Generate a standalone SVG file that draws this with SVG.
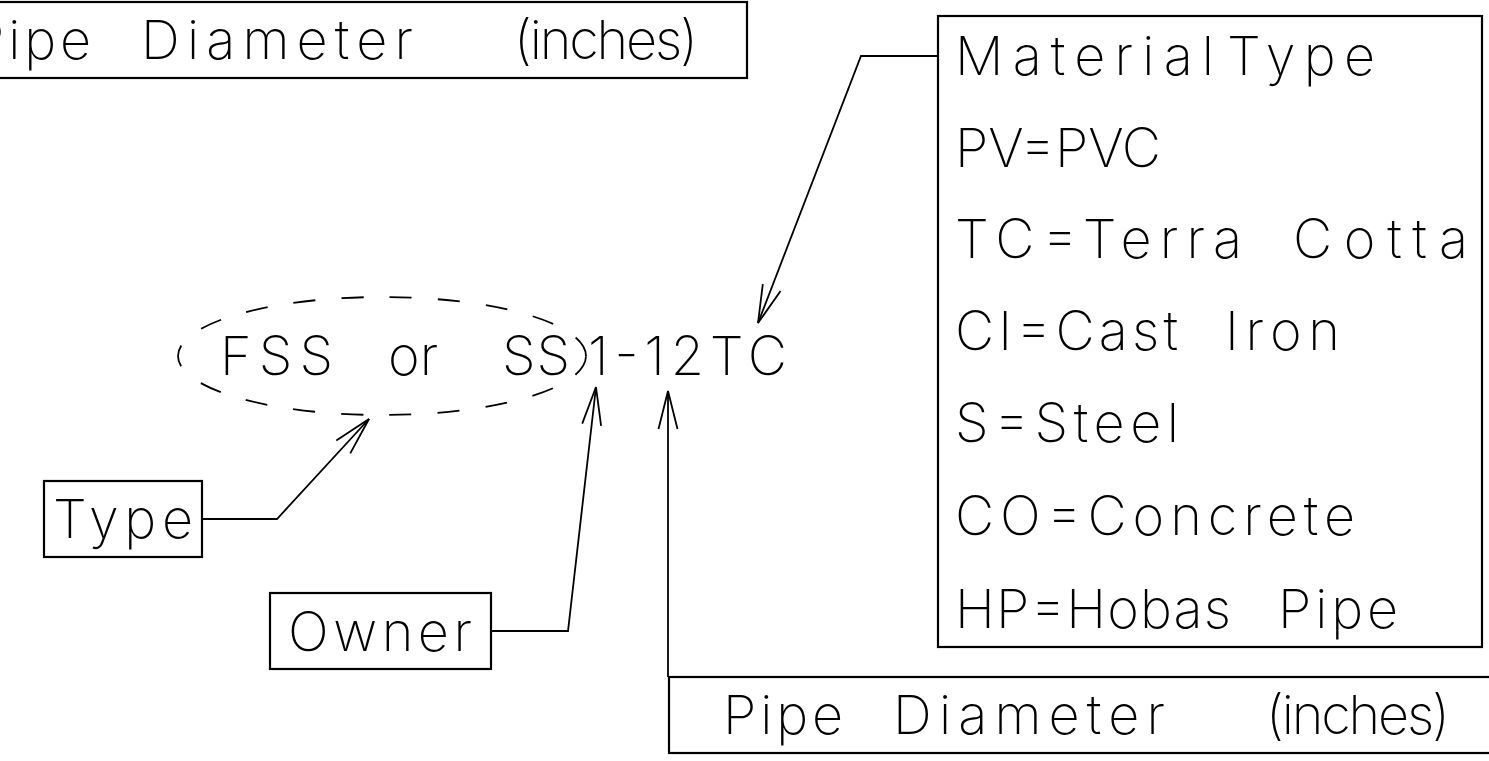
<svg xmlns="http://www.w3.org/2000/svg" width="1489" height="761" viewBox="0 0 1489 761">
<style>
text{font-family:Inter,"Open Sans","DejaVu Sans",sans-serif;font-weight:200;font-size:54px;fill:#000}
.box{fill:none;stroke:#000;stroke-width:2.2}
.ld{fill:none;stroke:#000;stroke-width:1.8;marker-end:url(#arr)}
.dash{fill:none;stroke:#000;stroke-width:1.8;stroke-dasharray:22 26.2}
</style>
<defs>
<marker id="arr" viewBox="-42 -12 46 24" markerWidth="46" markerHeight="24" refX="0" refY="0" markerUnits="userSpaceOnUse" orient="auto">
<path d="M-38,-9.5 L0,0 L-38,9.5" fill="none" stroke="#000" stroke-width="1.8"/>
</marker>
</defs>
<rect width="1489" height="761" fill="#fff"/>
<g id="top-diameter">
<rect class="box" x="-84" y="2" width="831" height="76"/>
<text y="59"><tspan x="-29" textLength="120" lengthAdjust="spacing">Pipe</tspan> <tspan x="141" textLength="272" lengthAdjust="spacing">Diameter</tspan> <tspan x="514" textLength="184" lengthAdjust="spacing">(inches)</tspan></text>
</g>
<g id="legend">
<rect class="box" x="938" y="16" width="544" height="631"/>
<text y="75"><tspan x="955" textLength="259" lengthAdjust="spacing">Material</tspan> <tspan x="1227" textLength="148" lengthAdjust="spacing">Type</tspan></text>
<text x="955" y="167" textLength="206" lengthAdjust="spacing">PV=PVC</text>
<text y="258"><tspan x="955" textLength="287" lengthAdjust="spacing">TC=Terra</tspan> <tspan x="1293" textLength="175" lengthAdjust="spacing">Cotta</tspan></text>
<text y="350"><tspan x="955" textLength="223" lengthAdjust="spacing">CI=Cast</tspan> <tspan x="1225" textLength="115" lengthAdjust="spacing">Iron</tspan></text>
<text x="955" y="442" textLength="224" lengthAdjust="spacing">S=Steel</text>
<text x="955" y="535" textLength="400" lengthAdjust="spacing">CO=Concrete</text>
<text y="628"><tspan x="955" textLength="276" lengthAdjust="spacing">HP=Hobas</tspan> <tspan x="1278" textLength="120" lengthAdjust="spacing">Pipe</tspan></text>
</g>
<g id="label-type-group">
<path class="dash" d="M586,356 A204,59 0 0 0 178,356 A204,59 0 0 0 586,356"/>
<text y="375"><tspan x="220" textLength="113" lengthAdjust="spacing">FSS</tspan> <tspan x="388">or</tspan> <tspan x="502" textLength="68" lengthAdjust="spacing">SS</tspan></text>
</g>
<g id="label-code">
<text x="588" y="375" textLength="199" lengthAdjust="spacing">1-12TC</text>
</g>
<g id="type">
<rect class="box" x="44" y="481" width="158" height="76"/>
<text x="53" y="538" textLength="140" lengthAdjust="spacing">Type</text>
</g>
<g id="owner">
<rect class="box" x="270" y="593" width="221" height="76"/>
<text x="288" y="651" textLength="184" lengthAdjust="spacing">Owner</text>
</g>
<g id="bottom-diameter">
<rect class="box" x="669" y="677" width="840" height="76"/>
<text y="734"><tspan x="723" textLength="120" lengthAdjust="spacing">Pipe</tspan> <tspan x="893" textLength="272" lengthAdjust="spacing">Diameter</tspan> <tspan x="1266" textLength="184" lengthAdjust="spacing">(inches)</tspan></text>
</g>
<g id="connectors">
<polyline class="ld" points="938,56 861,56 758,323"/>
<polyline class="ld" points="202,519 277,519 369,419"/>
<polyline class="ld" points="491,631 568,631 596,387"/>
<polyline class="ld" points="668,677 668,391"/>
</g>
</svg>
